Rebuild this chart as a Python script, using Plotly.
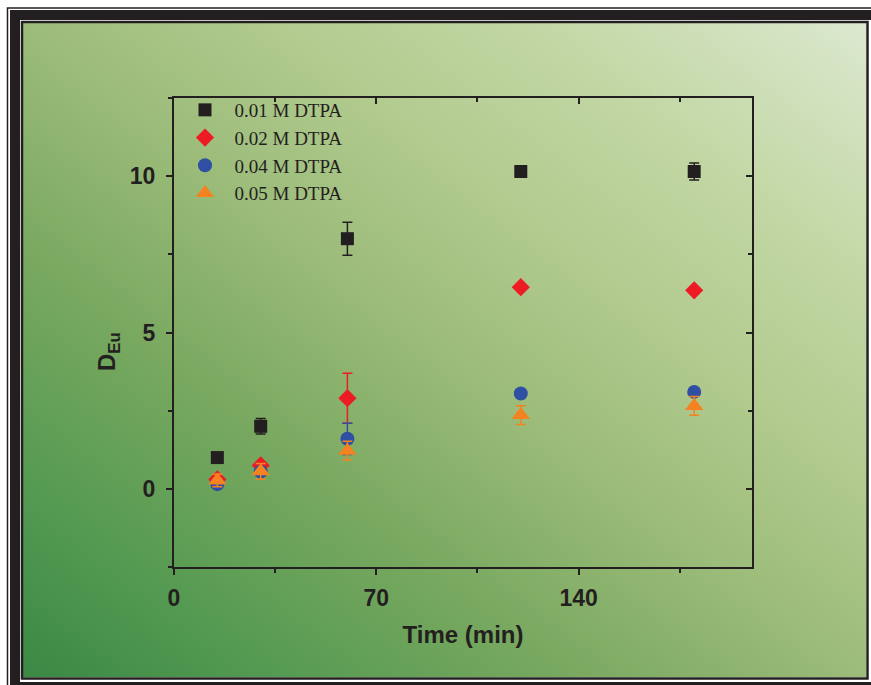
import base64
import plotly.graph_objects as go

# ---------------- data ----------------
time_min = [15, 30, 60, 120, 180]

d_001 = [1.0, 2.0, 8.0, 10.15, 10.15]
err_001 = [0.05, 0.25, 0.53, 0.15, 0.27]

d_002 = [0.3, 0.75, 2.9, 6.45, 6.35]
err_002 = [0.1, 0.1, 0.8, 0.1, 0.1]

d_004 = [0.15, 0.55, 1.6, 3.05, 3.1]
err_004 = [0.1, 0.1, 0.5, 0.1, 0.1]

d_005 = [0.27, 0.56, 1.22, 2.36, 2.65]
err_005 = [0.2, 0.25, 0.3, 0.3, 0.3]

series_names = ["0.01 M DTPA", "0.02 M DTPA", "0.04 M DTPA", "0.05 M DTPA"]

x_tickvals = [0, 70, 140]
x_minorvals = [35, 105, 175]
y_tickvals = [0, 5, 10]
y_minorvals = [-2.5, 2.5, 7.5, 12.5]
x_range = [0, 200]
y_range = [-2.5, 12.5]

# ---------------- geometry ----------------
W, H = 871, 685
L, R, T, B = 174, 119, 98, 118
PW, PH = W - L - R, H - T - B


def px(xp):
    return (xp - L) / PW


def py(yp):
    return (H - B - yp) / PH


INK = "#231f20"
colors = [INK, "#ed1c24", "#2f4fa2", "#f58220"]
symbols = ["square", "diamond", "circle", "triangle-up"]
sizes = [13, 14, 14, 16]
values = [d_001, d_002, d_004, d_005]
errors = [err_001, err_002, err_004, err_005]

fig = go.Figure()
for name, ys, es, c, s, sz in zip(series_names, values, errors, colors, symbols, sizes):
    fig.add_trace(go.Scatter(
        x=time_min, y=ys, mode="markers", name="\u2002" + name,
        marker=dict(symbol=s, size=sz, color=c, line=dict(width=0)),
        error_y=dict(type="data", array=es, visible=True, color=c, thickness=1.5, width=5),
        hoverinfo="x+y",
    ))

# invisible trace so the mirrored top/right axes exist
fig.add_trace(go.Scatter(x=time_min, y=d_001, xaxis="x2", yaxis="y2", mode="markers",
                         marker=dict(opacity=0), showlegend=False, hoverinfo="skip"))

# ---------------- background gradient ----------------
gx0, gy0, gx1, gy1 = 23, 23, 866, 677
gw, gh = gx1 - gx0, gy1 - gy0
stops = [(0.0, "#3a8944"), (0.15, "#559a52"), (0.32, "#78a85f"), (0.5, "#9cbc7a"),
         (0.65, "#b2cb8f"), (0.8, "#c2d7a4"), (1.0, "#dce8cf")]
stop_xml = "".join(f'<stop offset="{o}" stop-color="{c}"/>' for o, c in stops)
svg = (f'<svg xmlns="http://www.w3.org/2000/svg" width="{gw}" height="{gh}" '
       f'viewBox="0 0 {gw} {gh}" preserveAspectRatio="none"><defs>'
       f'<linearGradient id="g" x1="0" y1="1" x2="1" y2="0">{stop_xml}</linearGradient>'
       f'</defs><rect width="{gw}" height="{gh}" fill="url(#g)"/></svg>')
src = "data:image/svg+xml;base64," + base64.b64encode(svg.encode()).decode()
fig.add_layout_image(dict(source=src, xref="paper", yref="paper", x=px(gx0), y=py(gy0),
                          sizex=gw / PW, sizey=gh / PH, xanchor="left", yanchor="top",
                          sizing="stretch", layer="below"))

# ---------------- frame ----------------
def frame(x0, y0, x1, y1, w):
    fig.add_shape(type="rect", xref="paper", yref="paper", x0=px(x0), x1=px(x1),
                  y0=py(y0), y1=py(y1), line=dict(color=INK, width=w), fillcolor="rgba(0,0,0,0)",
                  layer="above")

frame(7.5, 8, 950, 950, 1.5)
frame(15, 15, 878, 687, 10)
frame(22, 22, 867.5, 678.5, 2.5)

# ---------------- axes ----------------
tickfont = dict(family="Liberation Sans, Arial", size=23, color=INK, weight="bold")
common = dict(showgrid=False, zeroline=False, showline=True, linecolor=INK, linewidth=2,
              tickcolor=INK, tickwidth=2)
fig.update_layout(
    width=W, height=H,
    margin=dict(l=L, r=R, t=T, b=B, pad=0),
    paper_bgcolor="white", plot_bgcolor="rgba(0,0,0,0)",
    showlegend=True,
    xaxis=dict(range=x_range, tickmode="array", tickvals=x_tickvals, ticks="outside", ticklen=6,
               minor=dict(tickmode="array", tickvals=x_minorvals, ticks="outside", ticklen=4,
                          tickwidth=2, tickcolor=INK),
               tickfont=tickfont, ticklabelstandoff=3,
               title=dict(text="Time (min)", standoff=17,
                          font=dict(family="Liberation Sans, Arial", size=24, color=INK, weight="bold")),
               **common),
    yaxis=dict(range=y_range, tickmode="array", tickvals=y_tickvals, ticks="outside", ticklen=6,
               minor=dict(tickmode="array", tickvals=y_minorvals, ticks="outside", ticklen=4,
                          tickwidth=2, tickcolor=INK),
               tickfont=tickfont, ticklabelstandoff=6,
               **common),
    xaxis2=dict(range=x_range, overlaying="x", side="top", anchor="y2", tickmode="array",
                tickvals=x_tickvals, ticks="inside", ticklen=6, showticklabels=False,
                minor=dict(tickmode="array", tickvals=x_minorvals, ticks="inside", ticklen=4,
                           tickwidth=2, tickcolor=INK),
                **common),
    yaxis2=dict(range=y_range, overlaying="y", side="right", anchor="x2", tickmode="array",
                tickvals=y_tickvals, ticks="inside", ticklen=6, showticklabels=False,
                minor=dict(tickmode="array", tickvals=y_minorvals, ticks="inside", ticklen=4,
                           tickwidth=2, tickcolor=INK),
                **common),
    legend=dict(x=px(185), y=py(91), xanchor="left", yanchor="top", bgcolor="rgba(0,0,0,0)",
                borderwidth=0, itemsizing="trace", tracegroupgap=0,
                font=dict(family="Liberation Serif, Times New Roman", size=19, color=INK)),
    annotations=[dict(text="D<sub>Eu</sub>", xref="paper", yref="paper", x=px(108), y=py(352),
                      xanchor="center", yanchor="middle", textangle=-90, showarrow=False,
                      font=dict(family="Liberation Sans, Arial", size=24, color=INK, weight="bold"))],
)

fig.write_html("out.html")
